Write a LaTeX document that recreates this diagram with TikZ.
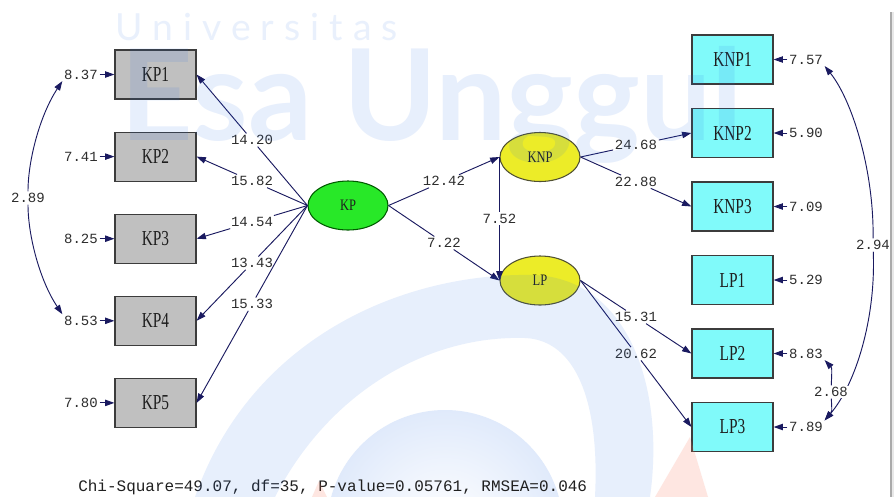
\documentclass[tikz,border=0pt]{standalone}
\usepackage{graphicx}
\usepackage{fontspec}
\setmainfont{Liberation Serif}
\newfontfamily\numfont{Liberation Mono}
\newfontfamily\wmfont{Lato}
\newfontfamily\wmspaced{Lato}[LetterSpace=27]
\usetikzlibrary{arrows.meta,shapes.geometric}
\definecolor{navy}{RGB}{26,26,96}
\definecolor{kpgray}{RGB}{192,192,192}
\definecolor{boxborder}{RGB}{60,60,60}
\definecolor{cyanbox}{RGB}{128,250,250}
\definecolor{latgreen}{RGB}{40,232,40}
\definecolor{greenborder}{RGB}{0,90,0}
\definecolor{latyellow}{RGB}{236,236,40}
\definecolor{yborder}{RGB}{80,80,50}
\definecolor{numtext}{RGB}{45,45,45}
\definecolor{labtext}{RGB}{30,30,30}
\definecolor{fittext}{RGB}{32,32,32}
\definecolor{wmblue}{RGB}{40,110,230}
\definecolor{wmlight}{RGB}{224,234,251}
\definecolor{wmsalmon}{RGB}{250,120,90}
\definecolor{panelgray}{RGB}{232,232,232}
\definecolor{panelline}{RGB}{170,170,170}
\pgfdeclarelayer{bottom}
\pgfdeclarelayer{back}
\pgfdeclarelayer{front}
\pgfsetlayers{bottom,back,main,front}
\newcommand\blab[1]{\scalebox{0.72}[1]{\fontsize{16}{16}\selectfont #1}}
\newcommand\elab[1]{\scalebox{0.78}[1]{\fontsize{12}{12}\selectfont #1}}
\tikzset{
  obsbox/.style={rectangle, draw=boxborder, line width=0.9pt, minimum width=60.75pt, minimum height=36.75pt, inner sep=0pt, text=labtext},
  obsgray/.style={obsbox, fill=kpgray},
  obscyan/.style={obsbox, fill=cyanbox},
  latent/.style={ellipse, line width=0.8pt, minimum width=60pt, minimum height=36.75pt, inner sep=0pt, text=labtext},
  num/.style={font=\numfont\fontsize{10.5}{10.5}\selectfont, text=numtext, inner sep=1.2pt},
  plain/.style={draw=navy, line width=0.7pt},
  conn/.style={plain, -{Triangle[length=7pt,width=4.8pt]}},
  tipstart/.style={plain, {Triangle[length=7pt,width=4.8pt]}-},
  wm/.style={fill=wmblue, fill opacity=0.11},
}
\begin{document}
\begin{tikzpicture}[x=0.75pt,y=-0.75pt]
\useasboundingbox (0,0) rectangle (894,497);
\begin{pgfonlayer}{bottom}
\fill[white] (0,0) rectangle (894,497);
\shade[inner color=white, outer color=wmlight] (445,528) circle (118);
\fill[panelgray] (891,12) rectangle (894,497);
\draw[panelline, line width=0.8pt] (891,12) -- (891,497);
\end{pgfonlayer}

% observed variables
\node[obsgray] (KP1) at (155.5,74.5) {\blab{KP1}};
\node[obsgray] (KP2) at (155.5,156.6) {\blab{KP2}};
\node[obsgray] (KP3) at (155.5,238.7) {\blab{KP3}};
\node[obsgray] (KP4) at (155.5,320.8) {\blab{KP4}};
\node[obsgray] (KP5) at (155.5,402.9) {\blab{KP5}};
\node[obscyan] (KNP1) at (732.5,59.5) {\blab{KNP1}};
\node[obscyan] (KNP2) at (732.5,133) {\blab{KNP2}};
\node[obscyan] (KNP3) at (732.5,206.5) {\blab{KNP3}};
\node[obscyan] (LP1) at (732.5,280) {\blab{LP1}};
\node[obscyan] (LP2) at (732.5,353.5) {\blab{LP2}};
\node[obscyan] (LP3) at (732.5,427) {\blab{LP3}};

% latent variables
\node[latent, fill=latgreen, draw=greenborder] (KP) at (348,205.5) {\elab{KP}};
\node[latent, fill=latyellow, draw=yborder] (KNP) at (540,157) {\elab{KNP}};
\node[latent, fill=latyellow, draw=yborder] (LP) at (540,280.5) {\elab{LP}};

% error variances
\node[num] (eKP1) at (81,74.5) {8.37};
\node[num] (eKP2) at (81,156.6) {7.41};
\node[num] (eKP3) at (81,238.7) {8.25};
\node[num] (eKP4) at (81,320.8) {8.53};
\node[num] (eKP5) at (81,402.9) {7.80};
\node[num] (eKNP1) at (806,59.5) {7.57};
\node[num] (eKNP2) at (806,133) {5.90};
\node[num] (eKNP3) at (806,206.5) {7.09};
\node[num] (eLP1) at (806,280) {5.29};
\node[num] (eLP2) at (806,353.5) {8.83};
\node[num] (eLP3) at (806,427) {7.89};
\foreach \e/\b in {eKP1/KP1,eKP2/KP2,eKP3/KP3,eKP4/KP4,eKP5/KP5,eKNP1/KNP1,eKNP2/KNP2,eKNP3/KNP3,eLP1/LP1,eLP2/LP2,eLP3/LP3}
  \draw[conn] (\e) -- (\b);

% paths with t-values
\path (KP.west) -- (KP1.east) node[num, pos=0.5] (p1) {14.20};
\path (KP.west) -- (KP2.east) node[num, pos=0.5] (p2) {15.82};
\path (KP.west) -- (KP3.east) node[num, pos=0.5] (p3) {14.54};
\path (KP.west) -- (KP4.east) node[num, pos=0.5] (p4) {13.43};
\path (KP.west) -- (KP5.east) node[num, pos=0.5] (p5) {15.33};
\path (KP.east) -- (KNP.west) node[num, pos=0.5] (p6) {12.42};
\path (KP.east) -- (LP.west) node[num, pos=0.5] (p7) {7.22};
\path (KNP.west) -- (LP.west) node[num, pos=0.5] (p8) {7.52};
\path (KNP.east) -- (KNP2.west) node[num, pos=0.5] (p9) {24.68};
\path (KNP.east) -- (KNP3.west) node[num, pos=0.5] (p10) {22.88};
\path (LP.east) -- (LP2.west) node[num, pos=0.5] (p11) {15.31};
\path (LP.east) -- (LP3.west) node[num, pos=0.5] (p12) {20.62};
\foreach \a/\l/\b in {KP.west/p1/KP1.east, KP.west/p2/KP2.east, KP.west/p3/KP3.east, KP.west/p4/KP4.east, KP.west/p5/KP5.east, KP.east/p6/KNP.west, KP.east/p7/LP.west, KNP.west/p8/LP.west, KNP.east/p9/KNP2.west, KNP.east/p10/KNP3.west, LP.east/p11/LP2.west, LP.east/p12/LP3.west}
{
  \draw[plain] (\a) -- (\l);
  \draw[conn] (\l) -- (\b);
}

% covariances between errors
\node[num] (c1) at (28,198) {2.89};
\draw[tipstart] (eKP1.south west) .. controls (40,115) and (28,160) .. (c1);
\draw[conn] (c1) .. controls (28,236) and (40,281) .. (eKP4.north west);
\node[num] (c2) at (873,245) {2.94};
\node[num, fill=white] (c3) at (831,392) {2.68};
\draw[tipstart] (eKNP1.south east) .. controls (852,100) and (874,170) .. (c2);
\begin{pgfonlayer}{back}
\draw[conn] (c2) .. controls (876,320) and (855,385) .. (eLP3.north east);
\end{pgfonlayer}
\draw[tipstart] (eLP2.south east) .. controls (832,368) .. (c3);
\draw[conn] (c3) .. controls (832,412) .. (eLP3.north east);

% fit statistics
\node[anchor=west, inner sep=0pt, font=\numfont\fontsize{12}{12}\selectfont, text=fittext] (fit) at (78,487) {Chi-Square=49.07, df=35, P-value=0.05761, RMSEA=0.046};

% watermark
\begin{pgfonlayer}{front}
\fill[wm] (195,497) .. controls (250,340) and (400,272) .. (535,275) .. controls (630,280) and (665,390) .. (650,497) -- (595,497) .. controls (600,400) and (575,340) .. (525,338) .. controls (430,335) and (330,390) .. (275,497) -- cycle;
\fill[wmsalmon, fill opacity=0.18] (690,437) -- (655,497) -- (708,497) -- cycle;
\fill[wmsalmon, fill opacity=0.18] (319,481) -- (312,497) -- (327,497) -- cycle;
\node[anchor=base west, inner sep=0pt, text=wmblue, text opacity=0.1, font=\wmspaced\fontsize{28}{28}\selectfont] (wm1) at (115,40) {Universitas};
\node[anchor=base west, inner sep=0pt, text=wmblue, text opacity=0.11, font=\wmfont\bfseries\fontsize{95}{95}\selectfont] (wm2) at (120,140) {Esa Unggul};
\end{pgfonlayer}
\end{tikzpicture}
\end{document}
